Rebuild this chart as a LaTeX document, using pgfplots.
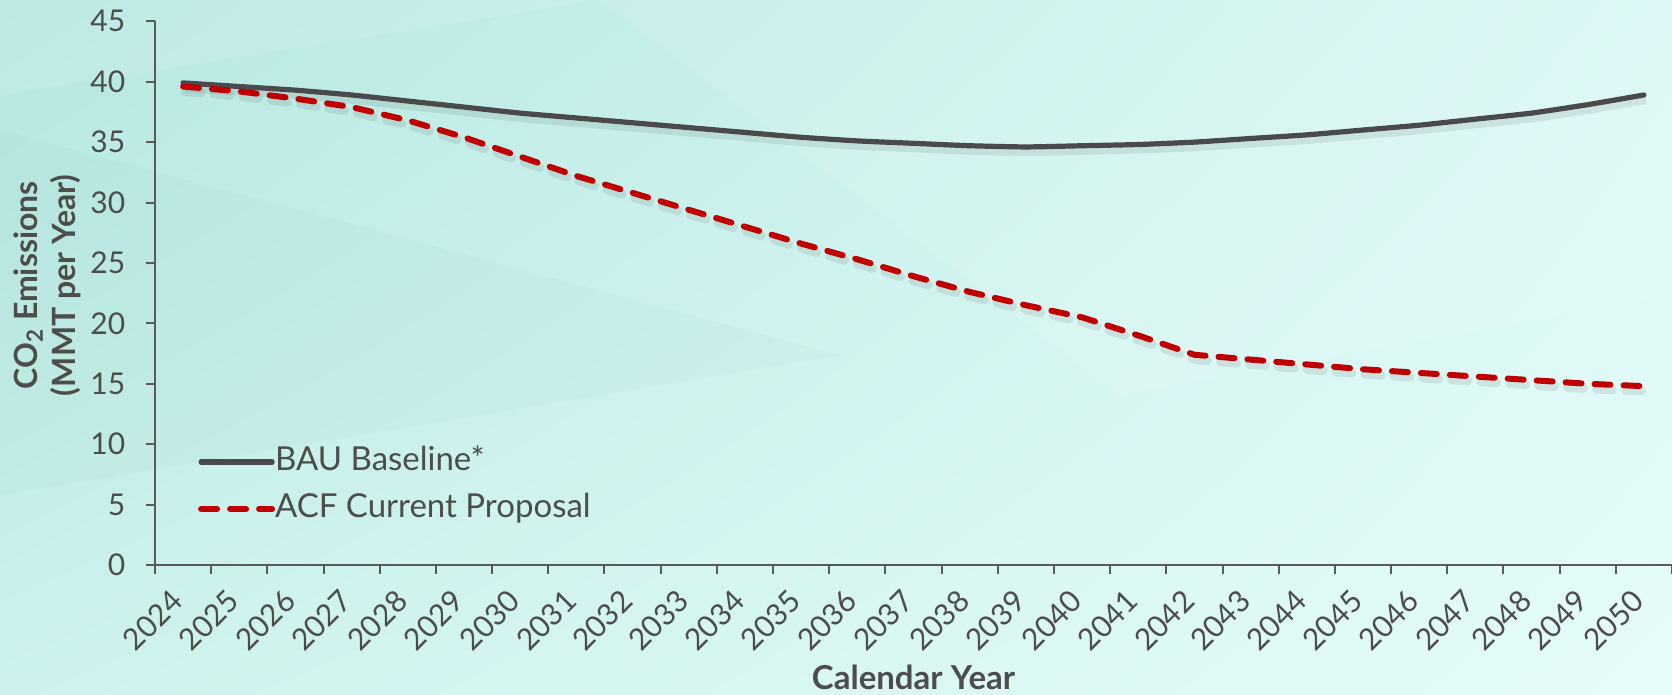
\documentclass[border=0pt]{standalone}
\usepackage{fontspec}
\setmainfont{Lato}
\usepackage{pgfplots}
\pgfplotsset{compat=1.18}
\usepackage{pgfplotstable}
\usetikzlibrary{shadings}
\definecolor{txt}{HTML}{4D4D4D}
\definecolor{axisgray}{HTML}{5A5A5A}
\definecolor{baugray}{HTML}{4A4A4D}
\definecolor{acfred}{HTML}{C00000}
\definecolor{bgUL}{HTML}{B5E7E0}
\definecolor{bgUR}{HTML}{DAF8F5}
\definecolor{bgLL}{HTML}{CDF2ED}
\definecolor{bgLR}{HTML}{E6FCF9}

\pgfplotstableread{
x bau acf
0  39.9 39.6
1  39.6 39.2
2  39.3 38.6
3  38.9 37.9
4  38.4 36.8
5  37.9 35.4
6  37.4 33.8
7  37.0 32.2
8  36.6 30.8
9  36.2 29.4
10 35.8 28.0
11 35.4 26.6
12 35.1 25.3
13 34.9 23.9
14 34.7 22.6
15 34.6 21.5
16 34.7 20.5
17 34.8 19.0
18 35.0 17.4
19 35.3 17.0
20 35.6 16.6
21 36.0 16.2
22 36.4 15.9
23 36.9 15.6
24 37.4 15.3
25 38.1 15.0
26 38.9 14.8
}\data

\begin{document}
\begin{tikzpicture}
\useasboundingbox (0,0) rectangle (836pt,347.5pt);
\shade[upper left=bgUL, upper right=bgUR, lower left=bgLL, lower right=bgLR] (0,0) rectangle (836pt,347.5pt);
\fill[white, opacity=0.12] (0,347.5pt) -- (300pt,347.5pt) -- (0,300pt) -- cycle;
\fill[white, opacity=0.10] (300pt,347.5pt) -- (836pt,347.5pt) -- (836pt,200pt) -- (560pt,150pt) -- cycle;
\fill[black!40!teal, opacity=0.022] (0,282.5pt) -- (0,100pt) -- (420pt,170pt) -- cycle;
\begin{axis}[
  at={(77.5pt,65pt)}, anchor=south west,
  scale only axis,
  width=758.5pt, height=271.85pt,
  xmin=-0.5, xmax=26.5,
  ymin=0, ymax=45,
  axis x line*=bottom,
  axis y line*=left,
  axis line style={draw=axisgray, line width=1pt, -},
  tick align=outside,
  major tick length=4.5pt,
  minor tick length=4.5pt,
  tick style={draw=axisgray, line width=1pt},
  major x tick style={draw=none},
  xtick={0,...,26},
  minor xtick={-0.5,0.5,...,26.5},
  xticklabels={2024,2025,2026,2027,2028,2029,2030,2031,2032,2033,2034,2035,2036,2037,2038,2039,2040,2041,2042,2043,2044,2045,2046,2047,2048,2049,2050},
  ytick={0,5,...,45},
  tick label style={font=\fontsize{15}{17}\selectfont, text=txt, inner sep=0pt},
  /pgf/number format/assume math mode=true,
  xticklabel style={xshift=-2.7pt, yshift=-10.8pt, rotate=45, anchor=east},
  yticklabel style={anchor=east, xshift=-10.2pt},
  xlabel={Calendar Year},
  ylabel={CO\textsubscript{2} Emissions\\(MMT per Year)},
  xlabel style={at={(rel axis cs:0.5,-0.2281)}, anchor=base, font=\bfseries\fontsize{16.5}{18}\selectfont, text=txt},
  ylabel style={at={(rel axis cs:-0.0709,0.5147)}, anchor=center, align=center, font=\bfseries\fontsize{16}{19}\selectfont, text=txt},
  legend style={at={(axis cs:0.26,6.58)}, anchor=west, draw=none, fill=none,
    font=\fontsize{16.5}{18}\selectfont, text=txt, inner sep=0pt,
    row sep=9pt, column sep=0pt,
    nodes={inner sep=0pt, text height=11.5pt, text depth=3pt}},
  legend cell align=left,
  legend image code/.code={\draw[#1] (0pt,0pt) -- (35.5pt,0pt);},
  clip=false,
]
\addplot[black, opacity=0.08, line width=4pt, smooth, tension=0.3, yshift=-2.5pt, xshift=1pt, forget plot] table[x=x, y=bau] {\data};
\addplot[black, opacity=0.08, line width=4.5pt, yshift=-2.5pt, xshift=1pt, dash pattern=on 8pt off 6.5pt, line cap=round, forget plot] table[x=x, y=acf] {\data};
\addplot[baugray, line width=2.6pt, smooth, tension=0.3, line cap=round, line join=round] table[x=x, y=bau] {\data};
\addlegendentry{\hspace{0pt}BAU Baseline*}
\addplot[acfred, line width=3pt, dash pattern=on 8pt off 6.5pt, line cap=round, line join=round] table[x=x, y=acf] {\data};
\addlegendentry{\hspace{0pt}ACF Current Proposal}
\end{axis}
\end{tikzpicture}
\end{document}
